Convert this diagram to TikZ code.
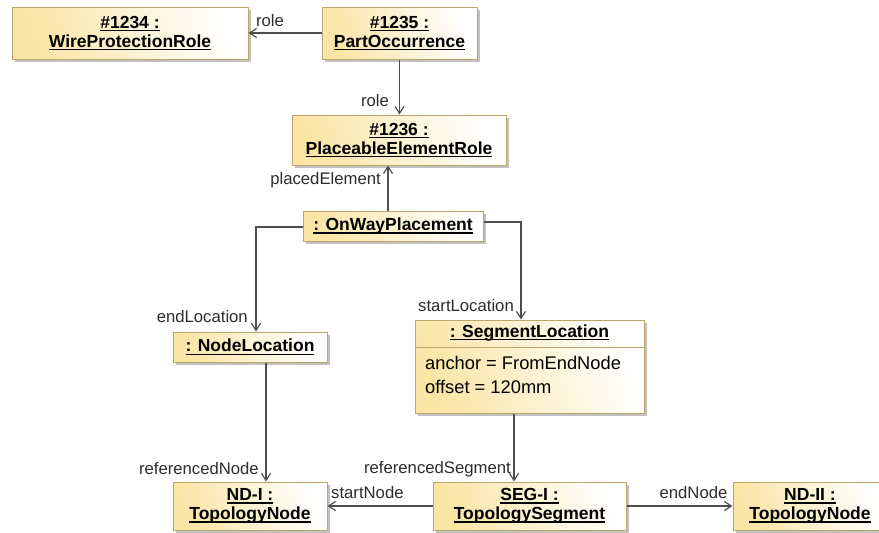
\documentclass[tikz,border=0pt]{standalone}
\usepackage{fontspec}
\setmainfont{Liberation Sans}
\usetikzlibrary{arrows.meta,shadows,calc}

\definecolor{objfill}{RGB}{250,229,165}
\definecolor{objline}{RGB}{188,166,108}
\definecolor{linkcol}{RGB}{78,78,78}
\definecolor{labelcol}{RGB}{45,45,45}

% bold object names, underlined with a firm rule
\newcommand\undl[1]{\setbox0=\hbox{#1}\rlap{\raisebox{-3pt}{\rule{\wd0}{1.3pt}}}\box0}
\newcommand\namefont{\fontsize{17.5}{19}\selectfont\bfseries}
\newcommand\attrfont{\fontsize{18.3}{24}\selectfont}
\newcommand\lblfont{\fontsize{16.7}{18}\selectfont}

\begin{document}
\begin{tikzpicture}[x=1pt, y=-1pt,
  obj/.style={draw=objline, line width=1pt, left color=objfill, right color=white,
    shading angle=110, align=center, font=\namefont, inner sep=0pt,
    drop shadow={shadow xshift=3pt, shadow yshift=-3pt, fill=black!40, opacity=0.6}},
  link/.style={draw=linkcol, line width=1.2pt,
    -{Straight Barb[length=7pt, width=9pt, line width=1.2pt]}},
  lbl/.style={font=\lblfont, text=labelcol, inner sep=0pt}]
\useasboundingbox (0,0) rectangle (879,533);
\clip (0,0) rectangle (879,533);
\fill[white] (0,0) rectangle (879,533);

% object boxes
\node[obj, minimum width=236pt, minimum height=52pt] (wpr) at (130,33)
  {\undl{\#1234 :}\\\undl{WireProtectionRole}};
\node[obj, minimum width=155pt, minimum height=52pt] (po) at (399.5,33)
  {\undl{\#1235 :}\\\undl{PartOccurrence}};
\node[obj, minimum width=214pt, minimum height=50pt] (per) at (399,140)
  {\undl{\#1236 :}\\\undl{PlaceableElementRole}};
\node[obj, minimum width=180pt, minimum height=30pt] (owp) at (393,226)
  {\undl{: OnWayPlacement}};
\node[obj, minimum width=154pt, minimum height=30pt] (nl) at (250,347)
  {\undl{: NodeLocation}};
\node[obj, minimum width=229pt, minimum height=93pt] (sl) at (529.5,366.5) {};
\node[font=\namefont, inner sep=0pt] (slname) at (529.5,333) {\undl{: SegmentLocation}};
\draw[draw=objline, line width=1pt] ([yshift=-28pt]sl.north west) -- ([yshift=-28pt]sl.north east);
\node[font=\attrfont, anchor=west, align=left, inner sep=0pt] (slattr) at (425,375)
  {anchor = FromEndNode\\offset = 120mm};
\node[obj, minimum width=154pt, minimum height=48pt] (nd1) at (250,506)
  {\undl{ND-I :}\\\undl{TopologyNode}};
\node[obj, minimum width=193pt, minimum height=48pt] (seg) at (529.5,506)
  {\undl{SEG-I :}\\\undl{TopologySegment}};
\node[obj, minimum width=154pt, minimum height=48pt] (nd2) at (810,506)
  {\undl{ND-II :}\\\undl{TopologyNode}};

% links
\draw[link] (po.west) -- (wpr.east);
\draw[link] (po.south) -- (po.south |- per.north);
\coordinate (pe) at ($(owp.north)+(-5,0)$);
\draw[link] (pe) -- (pe |- per.south);
\coordinate (elS) at ($(owp.west)+(0,1)$);
\draw[link] (elS) -| ($(nl.north)+(6,0)$);
\coordinate (slS) at ($(owp.east)+(0,-4)$);
\draw[link] (slS) -| ($(sl.north)+(-8.5,0)$);
\coordinate (rn) at ($(nl.south)+(16,0)$);
\draw[link] (rn) -- (rn |- nd1.north);
\coordinate (rs) at ($(sl.south)+(-15.5,0)$);
\draw[link] (rs) -- (rs |- seg.north);
\draw[link] (seg.west) -- (nd1.east);
\draw[link] (seg.east) -- (nd2.west);

% role names
\node[lbl] (l1) at (270,21) {role};
\node[lbl] (l2) at (375,101) {role};
\node[lbl, anchor=east] (l3) at (381,180) {placedElement};
\node[lbl, anchor=east] (l4) at (248,317) {endLocation};
\node[lbl, anchor=east] (l5) at (514,306) {startLocation};
\node[lbl, anchor=east] (l6) at (259,469) {referencedNode};
\node[lbl, anchor=east] (l7) at (511,469) {referencedSegment};
\node[lbl, anchor=west] (l8) at (331,493) {startNode};
\node[lbl] (l9) at (693.5,493) {endNode};
\end{tikzpicture}
\end{document}
